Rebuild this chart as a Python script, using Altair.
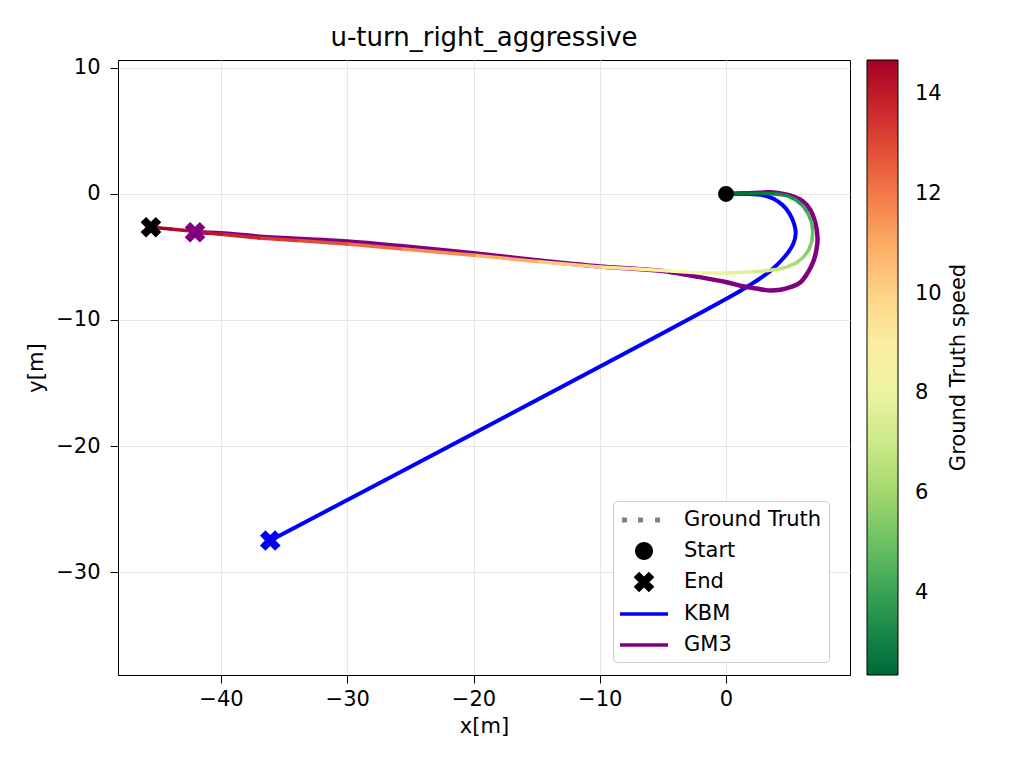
import altair as alt
import pandas as pd

chart_title = 'u-turn_right_aggressive'
colorbar_title = 'Ground Truth speed'

# ground truth trajectory with its speed (colour bar)
gt_x = [0.0, 1.0, 2.0, 3.0, 4.0, 4.8, 5.5, 6.1, 6.5, 6.78, 6.87, 6.8, 6.55, 6.15, 5.6,
        4.95, 4.2, 3.3, 2.0, 0.0, -2.0, -4.7, -7.0, -10.0, -15.0, -20.0, -25.8, -30.0,
        -34.0, -37.0, -40.0, -42.0, -44.0, -45.55]
gt_y = [0.0, 0.02, 0.03, 0.03, 0.0, -0.12, -0.45, -0.95, -1.55, -2.25, -3.0, -3.75, -4.45,
        -5.0, -5.45, -5.75, -5.95, -6.08, -6.2, -6.27, -6.28, -6.1, -5.95, -5.8, -5.35,
        -4.87, -4.34, -3.97, -3.7, -3.5, -3.2, -2.98, -2.78, -2.64]
gt_speed = [2.4, 2.5, 2.6, 2.8, 3.0, 3.3, 3.6, 3.9, 4.2, 4.5, 4.8, 5.1, 5.5, 5.8, 6.1,
            6.4, 6.7, 7.0, 7.4, 7.8, 8.2, 8.8, 9.3, 9.8, 10.6, 11.3, 12.0, 12.6,
            13.1, 13.5, 14.0, 14.3, 14.5, 14.7]

# KBM prediction
kbm_x = [0.0, 1.5, 2.95, 3.8, 4.5, 5.05, 5.4, 5.52, 5.35, 4.95, 4.45, 3.8, 3.2, 2.0, 0.6, -36.1]
kbm_y = [0.0, 0.0, -0.1, -0.4, -0.9, -1.6, -2.4, -3.1, -3.9, -4.6, -5.2, -5.85, -6.35, -7.15, -8.0, -27.5]

# GM3 prediction
gm3_x = [0.0, 1.5, 3.0, 3.75, 5.0, 6.1, 6.7, 7.05, 7.25, 7.15, 6.9, 6.5, 5.9, 5.1, 4.3, 3.3,
         2.4, 1.2, 0.05, -2.1, -4.7, -7.0, -10.0, -15.0, -20.0, -25.8, -30.0, -36.9, -40.0, -42.06]
gm3_y = [0.0, 0.05, 0.12, 0.12, -0.1, -0.6, -1.3, -2.2, -3.5, -4.5, -5.4, -6.2, -7.0, -7.4, -7.6, -7.65,
         -7.5, -7.3, -7.0, -6.6, -6.15, -5.95, -5.75, -5.25, -4.71, -4.13, -3.77, -3.39, -3.12, -3.04]

start_x = [0.0]
start_y = [0.0]

legend_labels = ['Ground Truth', 'Start', 'End', 'KBM', 'GM3']
legend_colors = ['gray', 'black', 'black', 'blue', 'purple']

X_MARK = ('M0.86,-0.405L0.455,0L0.86,0.405L0.405,0.86L0,0.455L-0.405,0.86L-0.86,0.405L-0.455,0'
          'L-0.86,-0.405L-0.405,-0.86L0,-0.455L0.405,-0.86Z')
legend_shapes = [
    'M-0.83,-0.21L-0.42,-0.21L-0.42,0.21L-0.83,0.21Z M0.5,-0.21L0.92,-0.21L0.92,0.21L0.5,0.21Z '
    'M1.92,-0.21L2.33,-0.21L2.33,0.21L1.92,0.21Z',
    'M1.75,0A0.75,0.75,0,1,1,0.25,0A0.75,0.75,0,1,1,1.75,0Z',
    'M1.86,-0.405L1.455,0L1.86,0.405L1.405,0.86L1,0.455L0.595,0.86L0.14,0.405L0.545,0'
    'L0.14,-0.405L0.595,-0.86L1,-0.455L1.405,-0.86Z',
    'M-1,-0.15L3,-0.15L3,0.15L-1,0.15Z',
    'M-1,-0.15L3,-0.15L3,0.15L-1,0.15Z',
]

FONT = 'DejaVu Sans'

x_scale = alt.Scale(domain=[-48.16, 9.82], nice=False, zero=False)
y_scale = alt.Scale(domain=[-38.17, 10.63], nice=False, zero=False)
x_enc = alt.X('x:Q', scale=x_scale,
              axis=alt.Axis(title='x[m]', values=[-40, -30, -20, -10, 0], labelPadding=5, titlePadding=6))
y_enc = alt.Y('y:Q', scale=y_scale,
              axis=alt.Axis(title='y[m]', values=[-30, -20, -10, 0, 10], labelPadding=10, titlePadding=9))

gt = pd.DataFrame({'x': gt_x, 'y': gt_y, 'speed': gt_speed})
seg = pd.DataFrame({
    'x': gt['x'][:-1].values,
    'y': gt['y'][:-1].values,
    'x2': gt['x'][1:].values,
    'y2': gt['y'][1:].values,
    'speed': (gt['speed'][:-1].values + gt['speed'][1:].values) / 2,
})

kbm = pd.DataFrame({'x': kbm_x, 'y': kbm_y, 'i': range(len(kbm_x))})
gm3 = pd.DataFrame({'x': gm3_x, 'y': gm3_y, 'i': range(len(gm3_x))})

kbm_line = alt.Chart(kbm).mark_line(color='blue', strokeWidth=4, interpolate='catmull-rom').encode(
    x=x_enc, y=y_enc, order='i:Q'
)
gm3_line = alt.Chart(gm3).mark_line(color='purple', strokeWidth=4.5, interpolate='catmull-rom').encode(
    x=x_enc, y=y_enc, order='i:Q'
)

gt_rules = alt.Chart(seg).mark_rule(strokeWidth=3.5, strokeCap='round').encode(
    x=x_enc, y=y_enc, x2='x2:Q', y2='y2:Q',
    color=alt.Color('speed:Q', title=None,
                    scale=alt.Scale(scheme='redyellowgreen', reverse=True, domain=[2.35, 14.69]),
                    legend=alt.Legend(orient='none', legendX=749, legendY=0,
                                      direction='vertical', gradientLength=615, gradientThickness=31,
                                      gradientStrokeColor='black', gradientStrokeWidth=1,
                                      values=[4, 6, 8, 10, 12, 14], labelOffset=17, padding=0))
)

# colour bar title, rotated beside the gradient
cbar_title = alt.Chart(pd.DataFrame({'t': [colorbar_title]})).mark_text(
    angle=270, font=FONT, fontSize=21, color='black', baseline='middle', align='center'
).encode(text='t:N', x=alt.value(841), y=alt.value(307.5))

start_pt = alt.Chart(pd.DataFrame({'x': start_x, 'y': start_y})).mark_point(
    shape='circle', filled=True, size=254, color='black', opacity=1
).encode(x=x_enc, y=y_enc)


def end_marker(xs, ys, col):
    df = pd.DataFrame({'x': [xs[-1]], 'y': [ys[-1]]})
    return alt.Chart(df).mark_point(shape=X_MARK, filled=True, size=576, color=col, opacity=1).encode(
        x=x_enc, y=y_enc)


legend_def = alt.Legend(orient='none', legendX=495, legendY=441, padding=7, strokeColor='#cccccc',
                        fillColor='white', cornerRadius=4, labelOffset=40, rowPadding=9,
                        symbolStrokeWidth=0, symbolOpacity=1, symbolSize=576)
legend_layer = alt.Chart(pd.DataFrame({'label': legend_labels})).mark_point(
    filled=True, size=576, opacity=1
).encode(
    fill=alt.Fill('label:N', scale=alt.Scale(domain=legend_labels, range=legend_colors),
                  title=None, legend=legend_def),
    shape=alt.Shape('label:N', scale=alt.Scale(domain=legend_labels, range=legend_shapes),
                    title=None, legend=legend_def),
).transform_filter('false')

chart = alt.layer(
    kbm_line, gm3_line, gt_rules, start_pt,
    end_marker(gt_x, gt_y, 'black'),
    end_marker(kbm_x, kbm_y, 'blue'),
    end_marker(gm3_x, gm3_y, 'purple'),
    legend_layer, cbar_title,
).properties(
    width=732, height=615, title=chart_title,
    autosize=alt.AutoSizeParams(type='none'),
    padding={'left': 110, 'top': 52, 'right': 166, 'bottom': 85},
    background='white',
).configure_axis(
    labelFont=FONT, labelFontSize=21, labelColor='black',
    titleFont=FONT, titleFontSize=21, titleFontWeight='normal', titleColor='black',
    tickColor='black', tickSize=8, domainColor='black', gridColor='#e6e6e6', gridWidth=1,
).configure_legend(
    labelFont=FONT, labelFontSize=21, labelColor='black',
).configure_view(
    stroke='black', strokeWidth=1
).configure_title(
    font=FONT, fontSize=26, fontWeight='normal', color='black', offset=6, anchor='middle'
)

chart.save('out.html', embed_options={'renderer': 'svg', 'actions': False})
